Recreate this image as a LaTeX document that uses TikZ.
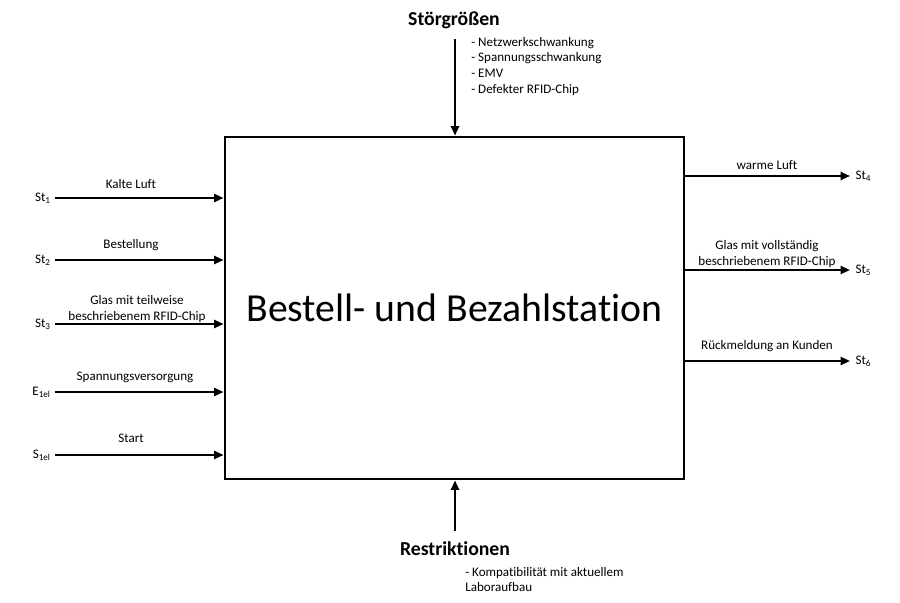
\documentclass[tikz,border=0pt]{standalone}
\usepackage{fontspec}
\setmainfont[Ligatures=NoCommon]{Carlito}
\usetikzlibrary{arrows.meta}
\begin{document}
\begin{tikzpicture}[x=0.75pt,y=-0.75pt,
  flow/.style={line width=1.5pt,-{Triangle[length=7pt,width=6pt]}},
  lbl/.style={font=\fontsize{9.8}{11.5}\selectfont,align=center,inner sep=1pt},
  sym/.style={font=\fontsize{9.8}{11.5}\selectfont,inner sep=1pt},
  lst/.style={font=\fontsize{9.8}{11.7}\selectfont,align=left,anchor=north west,inner sep=0pt},
  head/.style={font=\bfseries\fontsize{14.8}{17}\selectfont,inner sep=0pt}]
\useasboundingbox (0,0) rectangle (900,603);
\node[draw,line width=2.2pt,minimum width=459*0.75pt,minimum height=342*0.75pt,inner sep=0pt,
  font=\fontsize{29.8}{34}\selectfont] (box) at (454.5,308) {Bestell- und Bezahlstation};
% left inputs
\coordinate (i1) at (55,198);
\coordinate (i2) at (55,260);
\coordinate (i3) at (55,324);
\coordinate (i4) at (55,392);
\coordinate (i5) at (55,455);
\node[sym,anchor=east] (s1) at ([xshift=-2pt]i1) {St\textsubscript{1}};
\node[sym,anchor=east] (s2) at ([xshift=-2pt]i2) {St\textsubscript{2}};
\node[sym,anchor=east] (s3) at ([xshift=-2pt]i3) {St\textsubscript{3}};
\node[sym,anchor=east] (s4) at ([xshift=-2pt]i4) {E\textsubscript{1el}};
\node[sym,anchor=east] (s5) at ([xshift=-2pt]i5) {S\textsubscript{1el}};
\draw[flow] (i1) -- (i1 -| box.west);
\draw[flow] (i2) -- (i2 -| box.west);
\draw[flow] (i3) -- (i3 -| box.west);
\draw[flow] (i4) -- (i4 -| box.west);
\draw[flow] (i5) -- (i5 -| box.west);
\node[lbl] (l1) at (131,184) {Kalte Luft};
\node[lbl] (l2) at (131,245) {Bestellung};
\node[lbl] (l3) at (137,309) {Glas mit teilweise\\beschriebenem RFID-Chip};
\node[lbl] (l4) at (135,377) {Spannungsversorgung};
\node[lbl] (l5) at (131,438) {Start};
% right outputs
\coordinate (o1) at (850,176);
\coordinate (o2) at (850,270);
\coordinate (o3) at (850,361);
\draw[flow] (o1 -| box.east) -- (o1);
\draw[flow] (o2 -| box.east) -- (o2);
\draw[flow] (o3 -| box.east) -- (o3);
\node[sym,anchor=west] (t1) at ([xshift=3pt]o1) {St\textsubscript{4}};
\node[sym,anchor=west] (t2) at ([xshift=3pt]o2) {St\textsubscript{5}};
\node[sym,anchor=west] (t3) at ([xshift=3pt]o3) {St\textsubscript{6}};
\node[lbl] (r1) at (767,165) {warme Luft};
\node[lbl] (r2) at (767,254) {Glas mit vollständig\\beschriebenem RFID-Chip};
\node[lbl] (r3) at (767,346) {Rückmeldung an Kunden};
% top
\node[head] (sg) at (454,20) {Störgrößen};
\coordinate (tt) at (455,39);
\draw[flow] (tt) -- (tt |- box.north);
\node[lst] (sl) at (471,37) {- Netzwerkschwankung\\- Spannungsschwankung\\- EMV\\- Defekter RFID-Chip};
% bottom
\node[head] (re) at (455,549) {Restriktionen};
\coordinate (bb) at (455,531);
\draw[flow] (bb) -- (bb |- box.south);
\node[lst] (rl) at (465,567) {- Kompatibilität mit aktuellem\\Laboraufbau};
\end{tikzpicture}
\end{document}
